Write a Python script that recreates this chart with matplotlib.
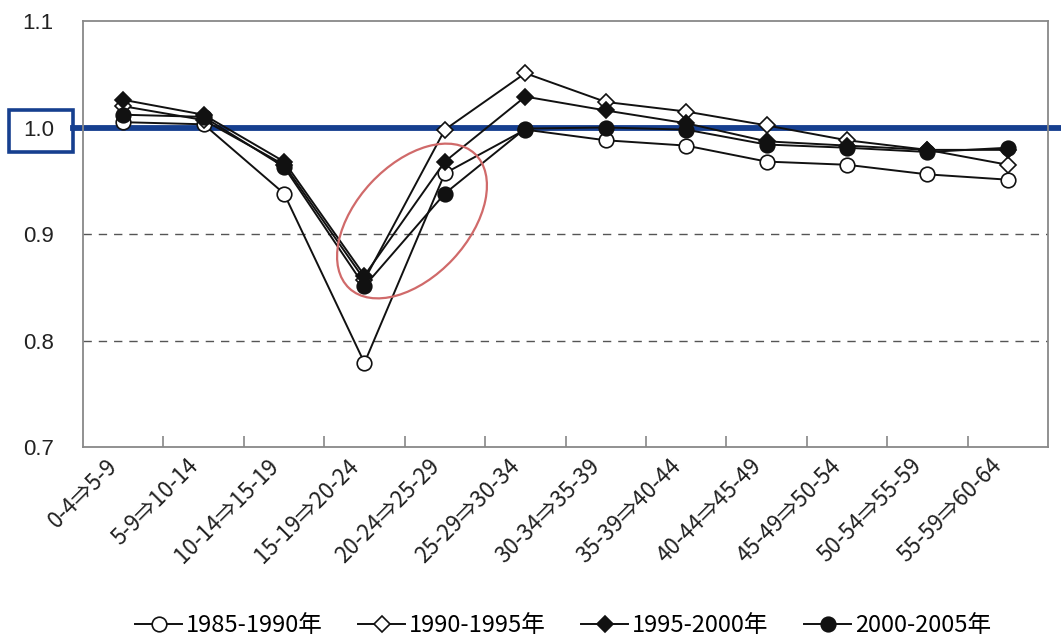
import matplotlib
matplotlib.use("Agg")
import matplotlib.pyplot as plt
from matplotlib.patches import Ellipse, Rectangle
from matplotlib.lines import Line2D
from matplotlib.transforms import Affine2D, blended_transform_factory, ScaledTranslation

categories = ["0-4⇒5-9", "5-9⇒10-14", "10-14⇒15-19", "15-19⇒20-24",
              "20-24⇒25-29", "25-29⇒30-34", "30-34⇒35-39", "35-39⇒40-44",
              "40-44⇒45-49", "45-49⇒50-54", "50-54⇒55-59", "55-59⇒60-64"]
s1985 = [1.005, 1.003, 0.938, 0.779, 0.957, 0.998, 0.988, 0.983, 0.968, 0.965, 0.956, 0.951]
s1990 = [1.020, 1.007, 0.965, 0.857, 0.998, 1.051, 1.024, 1.015, 1.002, 0.988, 0.979, 0.965]
s1995 = [1.026, 1.012, 0.968, 0.861, 0.968, 1.029, 1.016, 1.004, 0.987, 0.983, 0.979, 0.979]
s2000 = [1.012, 1.010, 0.963, 0.851, 0.938, 0.999, 1.000, 0.998, 0.984, 0.981, 0.977, 0.981]
labels = ["1985-1990年", "1990-1995年", "1995-2000年", "2000-2005年"]
yticks = [0.7, 0.8, 0.9, 1.0, 1.1]

W, H = 1061, 641
fig = plt.figure(figsize=(W / 100, H / 100), dpi=100)
ax = fig.add_axes([83 / W, 1 - 447 / H, (1048 - 83) / W, (447 - 21) / H])

cjk = ["Noto Sans CJK JP", "DejaVu Sans"]
x = list(range(len(categories)))

blue = "#163f8f"
# dashed reference lines
for yv in [0.8, 0.9, 1.0]:
    ax.axhline(yv, color="#555555", lw=1.0, ls=(0, (6, 5)), zorder=1)

# blue 1.0 line extending outside plot area
tr = blended_transform_factory(fig.transFigure, ax.transData)
ax.add_line(Line2D([73 / W, 1.0], [1.0, 1.0], transform=tr, color=blue, lw=4.2,
                   clip_on=False, zorder=1.5))
fig.patches.append(Rectangle((9 / W, 1 - 152 / H), 64 / W, 42 / H, transform=fig.transFigure,
                             fill=False, edgecolor=blue, lw=2.6, zorder=5))

mk = dict(color="#111111", lw=1.4, markeredgecolor="#111111", markeredgewidth=1.2, zorder=3)
ax.plot(x, s1985, marker="o", markersize=10.5, markerfacecolor="white", label=labels[0], **mk)
ax.plot(x, s1990, marker="D", markersize=8.5, markerfacecolor="white", label=labels[1], **mk)
ax.plot(x, s1995, marker="D", markersize=8.5, markerfacecolor="#111111", label=labels[2], **mk)
ax.plot(x, s2000, marker="o", markersize=10.5, markerfacecolor="#111111", label=labels[3], **mk)

# red ellipse (in pixel units)
pix = Affine2D().scale(1 / W, 1 / H) + fig.transFigure
fig.patches.append(Ellipse((412, H - 221), 184, 112, angle=47, transform=pix, fill=False,
                           edgecolor="#d06a6a", lw=1.6, zorder=6))

ax.set_xlim(-0.5, len(categories) - 0.5)
ax.set_ylim(0.7, 1.1)
ax.set_yticks(yticks)
ax.set_yticklabels([f"{v:.1f}" for v in yticks], fontsize=16, family="Liberation Sans", color="#222222")
ax.tick_params(axis="y", length=0, pad=21)

ax.set_xticks([i + 0.5 for i in range(len(categories) - 1)])
ax.set_xticklabels([])
ax.tick_params(axis="x", which="major", direction="in", length=8, color="#888888", width=1.2)
ax.set_xticks(x, minor=True)
ax.set_xticklabels(categories, minor=True, rotation=45, ha="right", va="center",
                   rotation_mode="anchor", fontsize=16, family=cjk, color="#222222")
ax.tick_params(axis="x", which="minor", length=0, pad=11)
off = ScaledTranslation(-9 / 100, 0, fig.dpi_scale_trans)
for lab in ax.get_xticklabels(minor=True):
    lab.set_transform(lab.get_transform() + off)

for s in ax.spines.values():
    s.set_color("#888888")
    s.set_linewidth(1.3)

leg = ax.legend(loc="center", bbox_to_anchor=(563 / W, 1 - 626 / H), bbox_transform=fig.transFigure,
                ncol=4, frameon=False, prop={"family": cjk, "size": 17}, handlelength=2.0,
                handletextpad=0.15, columnspacing=1.5)

fig.savefig("out.png", dpi=100)
